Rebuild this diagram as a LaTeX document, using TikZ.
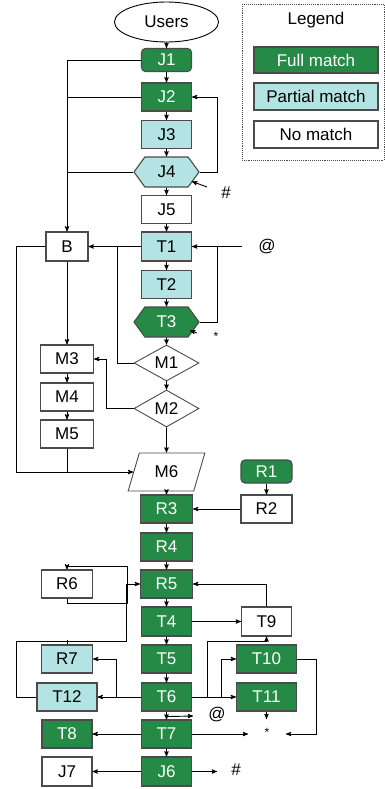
\documentclass[tikz,border=0pt]{standalone}
\usepackage{fontspec}
\setmainfont{Liberation Sans}
\usetikzlibrary{arrows,shapes.geometric,shapes.symbols,calc}

\definecolor{fullgreen}{RGB}{36,138,69}
\definecolor{partblue}{RGB}{180,227,227}
\definecolor{edgegray}{RGB}{75,75,75}

\begin{document}
\begin{tikzpicture}[x=1pt, y=-1pt, ->, >=stealth', line width=0.9pt,
  every node/.style={font=\fontsize{17}{20}\selectfont},
  box/.style={draw=edgegray, line width=1.1pt, minimum width=50, minimum height=28, inner sep=0pt},
  full/.style={box, fill=fullgreen, text=white},
  part/.style={box, fill=partblue},
  none/.style={box, fill=white},
  hexa/.style={signal, signal to=east and west, signal pointer angle=108, minimum width=65, minimum height=30},
  choice/.style={diamond, draw=edgegray, line width=0.9pt, fill=white, aspect=1.8, minimum width=65, minimum height=36, inner sep=0pt},
  slanted/.style={trapezium, trapezium left angle=68, trapezium right angle=112, trapezium stretches=true, draw=edgegray, line width=0.9pt, fill=white, minimum width=77, minimum height=38, inner sep=0pt},
  starsym/.style={inner sep=0pt, font=\fontsize{12}{14}\selectfont}]
\useasboundingbox (0,0) rectangle (385,789);

% legend
\draw[-, densely dotted, edgegray] (242,4) rectangle (384,160);
\node (legend) at (316,20) {Legend};
\node[full, minimum width=124, minimum height=26] (lfull) at (316,60) {Full match};
\node[part, minimum width=124, minimum height=27] (lpart) at (316,96.5) {Partial match};
\node[none, minimum width=124, minimum height=27] (lnone) at (316,134.5) {No match};

% main column
\node[ellipse, draw, line width=0.9pt, minimum width=104, minimum height=40, inner sep=0pt] (users) at (166.5,22) {Users};
\node[full, rounded corners=4pt, minimum height=23] (J1) at (166.5,60) {J1};
\node[full] (J2) at (166.5,97) {J2};
\node[part] (J3) at (166.5,134.5) {J3};
\node[part, hexa] (J4) at (166.5,172) {J4};
\node[none] (J5) at (166.5,209.5) {J5};
\node[part, minimum height=29] (T1) at (166.5,246.5) {T1};
\node[part] (T2) at (166.5,284.5) {T2};
\node[full, hexa] (T3) at (166.5,322) {T3};
\node[choice] (M1) at (166.5,363) {M1};
\node[choice, minimum height=37] (M2) at (166.5,408.5) {M2};
\node[slanted] (M6) at (166.5,472) {M6};
\node[full, minimum width=52] (R3) at (166.5,509) {R3};
\node[full, minimum width=52] (R4) at (166.5,547) {R4};
\node[full, minimum width=52] (R5) at (166.5,584) {R5};
\node[full, minimum height=29] (T4) at (166.5,621.5) {T4};
\node[full] (T5) at (166.5,659) {T5};
\node[full] (T6) at (166.5,697) {T6};
\node[full] (T7) at (166.5,734) {T7};
\node[full, minimum height=29] (J6) at (166.5,771.5) {J6};

% left column
\node[none, minimum width=42, minimum height=29] (B) at (67,246.5) {B};
\node[none, minimum width=53] (M3) at (67,359) {M3};
\node[none, minimum width=53] (M4) at (67,397) {M4};
\node[none, minimum width=53] (M5) at (67,434) {M5};
\node[none, minimum width=51] (R6) at (67,584) {R6};
\node[part, minimum width=51] (R7) at (67,659) {R7};
\node[part, minimum width=60] (T12) at (67,697) {T12};
\node[full] (T8) at (67,734) {T8};
\node[none, minimum height=29] (J7) at (67,771.5) {J7};

% right column
\node[full, rounded corners=4pt, minimum width=51, minimum height=23] (R1) at (266.5,471.5) {R1};
\node[none, minimum width=51] (R2) at (266.5,509) {R2};
\node[none, minimum height=29] (T9) at (266.5,621.5) {T9};
\node[full, minimum width=60] (T10) at (266.5,659) {T10};
\node[full, minimum width=60] (T11) at (266.5,697) {T11};

% marks
\node (at1) at (267,247) {@};
\node (hash1) at (226,193) {\#};
\node[starsym] (star1) at (216,336) {*};
\node (at2) at (217,715) {@};
\node[starsym] (star2) at (267,732) {*};
\node (hash2) at (236,770) {\#};

\coordinate (hashtail) at (207,187);
\coordinate (hashhead) at (192,181.5);
\coordinate (attail) at (242,246.5);
\coordinate (startail) at (197,333);
\coordinate (starhead) at (190,330.5);
\coordinate (mjoin) at (117,246.5);
\coordinate (t6out) at (193,716);
\coordinate (t7out) at (248,734);
\coordinate (t10out) at (286,734);
\coordinate (t11out) at (266.5,719);
\coordinate (j6out) at (217,771.5);

% straight links
\path
(users) edge (J1)
(J1) edge (J2)
(J2) edge (J3)
(J3) edge (J4)
(J4) edge (J5)
(J5) edge (T1)
(T1) edge (T2)
(T2) edge (T3)
(T3) edge (M1)
(M1) edge (M2)
(M2) edge (M6)
(M6) edge (R3)
(R3) edge (R4)
(R4) edge (R5)
(R5) edge (T4)
(T4) edge (T5)
(T5) edge (T6)
(T6) edge (T7)
(T7) edge (J6)
(B) edge (M3)
(M3) edge (M4)
(M4) edge (M5)
(R1) edge (R2)
(R2) edge (R3)
(T1) edge (B)
(T4) edge (T9)
(T6) edge (T11)
(T6) edge (T12)
(T7) edge (T8)
(J6) edge (J7)
(hashtail) edge (hashhead)
(attail) edge (T1.east)
(startail) edge (starhead)
(T11) edge (t11out)
(T7) edge (t7out)
(J6) edge (j6out);

% bent links
\draw (J1.west) -| (B.north);
\draw[-] (J2.west) -- (J2.west -| B.north);
\draw[-] (J4.west) -- (J4.west -| B.north);
\draw (J4.east) -- ++(18,0) |- (J2.east);
\draw[-] (T3.east) -- ++(18,0) |- (T1.east);
\draw[-] (M1.west) -| (mjoin);
\draw (M2.west) -- ++(-27,0) |- (M3.east);
\draw (B.west) -- ++(-29,0) |- (M6.west);
\draw[-] (M5.south) -- (M5.south |- M6.west);
\draw (T9.north) |- (R5.east);
\draw (R6.south) -- ++(0,5) -| ++(60,-37) -| (R6.north);
\draw (T12.west) -- ++(-20,0) |- ++(110,-56) |- (R5.west);
\draw[-] (R7.north) -- ++(0,-4);
\draw ($(T6.west)+(-25,0)$) |- (R7.east);
\draw ($(T6.east)+(29,0)$) |- (T10.west);
\draw ($(T6.east)+(15,0)$) |- ($(T9.south)+(0,5)$) -- (T9.south);
\draw (T10.east) -- ++(19,0) |- (t10out);
\draw ($(T6.south)+(0,5)$) -- (t6out);
\end{tikzpicture}
\end{document}
